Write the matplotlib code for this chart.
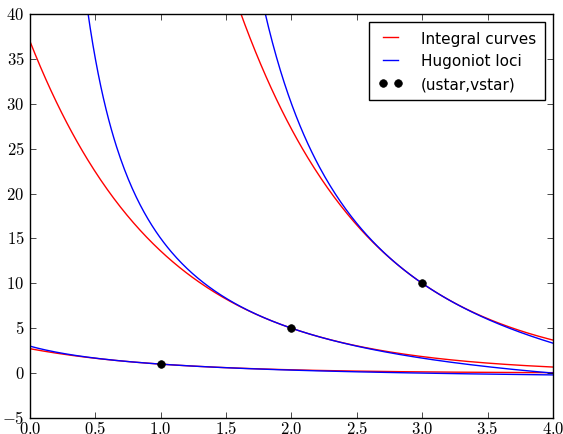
import numpy as np
import matplotlib
matplotlib.use("Agg")
import matplotlib.pyplot as plt
from matplotlib.ticker import FuncFormatter

plt.style.use('classic')
plt.rcParams['mathtext.fontset'] = 'cm'

# star states (ustar, vstar)
ustar = [1.0, 2.0, 3.0]
vstar = [1.0, 5.0, 10.0]

u = np.linspace(0, 4, 400)

fig = plt.figure(figsize=(5.63, 4.35), dpi=100)
ax = fig.add_axes([0.0533, 0.0368, 0.9289, 0.9287])

for i in range(len(ustar)):
    d = u - ustar[i]
    # integral curve: dv/du = -v
    v_int = vstar[i] * np.exp(-d)
    # Hugoniot locus
    with np.errstate(divide='ignore', invalid='ignore'):
        v_hug = vstar[i] * (2 - d) / (2 + d)
    v_hug[d <= -2] = np.nan
    lab1 = 'Integral curves' if i == 0 else None
    lab2 = 'Hugoniot loci' if i == 0 else None
    ax.plot(u, v_int, 'r', label=lab1)
    ax.plot(u, v_hug, 'b', label=lab2)

ax.plot(ustar, vstar, 'ko', markersize=5.5, label='(ustar,vstar)')

ax.set_xlim(0, 4)
ax.set_ylim(-5, 40)
ax.xaxis.set_major_formatter(FuncFormatter(lambda x, p: r'$%.1f$' % x))
ax.yaxis.set_major_formatter(FuncFormatter(lambda y, p: r'$%d$' % y))
ax.tick_params(labelsize=12)
ax.tick_params(axis='x', pad=0.5)
ax.legend(loc='upper right', fontsize=11, numpoints=2, handlelength=1.6,
          handletextpad=1.2, borderpad=0.6)

fig.savefig('out.png', dpi=100)
